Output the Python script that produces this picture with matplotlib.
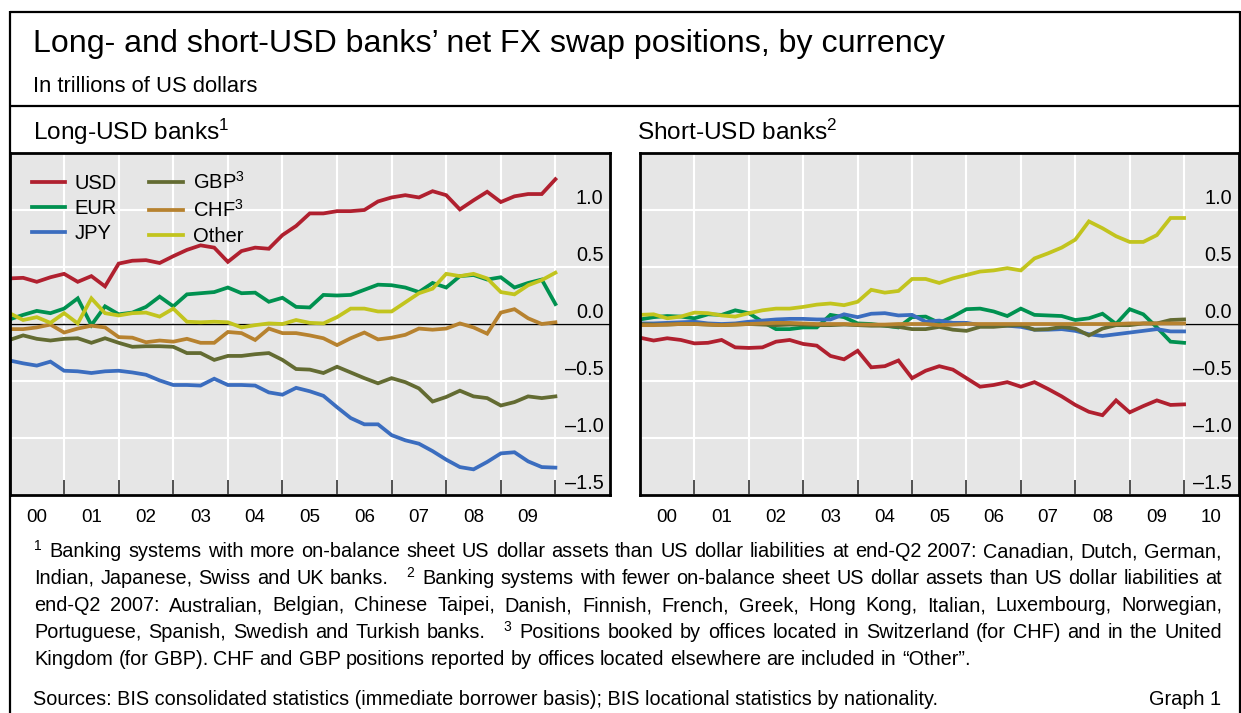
import matplotlib
matplotlib.use("Agg")
import matplotlib.pyplot as plt
import matplotlib.transforms as mtransforms
from matplotlib.lines import Line2D
import numpy as np

# quarterly observations, 2000 to 2010
quarters = 2000 + 0.25 * np.arange(41)

# long-USD banks
usd_long = [0.40, 0.405, 0.37, 0.41, 0.44, 0.37, 0.42, 0.33, 0.53, 0.555, 0.56, 0.535, 0.595, 0.65,
            0.69, 0.67, 0.545, 0.64, 0.67, 0.66, 0.78, 0.86, 0.97, 0.97, 0.99, 0.99, 1.0, 1.075,
            1.11, 1.13, 1.11, 1.165, 1.13, 1.005, 1.085, 1.16, 1.07, 1.12, 1.14, 1.14, 1.27]
eur_long = [0.04, 0.08, 0.115, 0.095, 0.135, 0.225, -0.01, 0.155, 0.085, 0.10, 0.15, 0.24, 0.155,
            0.26, 0.27, 0.28, 0.32, 0.27, 0.275, 0.195, 0.23, 0.15, 0.145, 0.255, 0.25, 0.255,
            0.30, 0.345, 0.34, 0.32, 0.28, 0.36, 0.32, 0.42, 0.43, 0.39, 0.41, 0.32, 0.36, 0.39, 0.175]
jpy_long = [-0.32, -0.345, -0.365, -0.33, -0.41, -0.415, -0.43, -0.415, -0.41, -0.425, -0.445,
            -0.495, -0.535, -0.535, -0.54, -0.48, -0.535, -0.535, -0.54, -0.60, -0.62, -0.56, -0.59,
            -0.63, -0.73, -0.825, -0.88, -0.88, -0.975, -1.02, -1.05, -1.115, -1.19, -1.255, -1.275,
            -1.21, -1.135, -1.125, -1.205, -1.255, -1.26]
gbp_long = [-0.14, -0.10, -0.13, -0.145, -0.13, -0.125, -0.165, -0.125, -0.165, -0.20, -0.195,
            -0.195, -0.20, -0.255, -0.255, -0.315, -0.28, -0.28, -0.265, -0.255, -0.315, -0.395,
            -0.40, -0.43, -0.375, -0.425, -0.475, -0.52, -0.475, -0.51, -0.565, -0.68, -0.64,
            -0.585, -0.635, -0.65, -0.715, -0.685, -0.635, -0.65, -0.635]
chf_long = [-0.045, -0.045, -0.03, -0.005, -0.075, -0.04, -0.015, -0.03, -0.115, -0.12, -0.16,
            -0.145, -0.155, -0.13, -0.165, -0.165, -0.07, -0.08, -0.14, -0.04, -0.08, -0.08, -0.10,
            -0.125, -0.185, -0.125, -0.075, -0.135, -0.12, -0.095, -0.04, -0.05, -0.04, 0.005,
            -0.03, -0.085, 0.10, 0.13, 0.05, 0.0, 0.015]
other_long = [0.095, 0.035, 0.06, 0.01, 0.095, 0.005, 0.225, 0.095, 0.075, 0.095, 0.10, 0.065,
              0.135, 0.02, 0.015, 0.02, 0.015, -0.03, -0.01, 0.005, 0.0, 0.035, 0.01, 0.005, 0.06,
              0.135, 0.135, 0.11, 0.11, 0.19, 0.27, 0.31, 0.44, 0.42, 0.44, 0.40, 0.28, 0.26, 0.34,
              0.385, 0.45]

# short-USD banks
usd_short = [-0.12, -0.145, -0.125, -0.14, -0.17, -0.165, -0.14, -0.205, -0.21, -0.205, -0.155,
             -0.14, -0.175, -0.19, -0.28, -0.31, -0.235, -0.38, -0.37, -0.32, -0.475, -0.41, -0.37,
             -0.40, -0.475, -0.55, -0.535, -0.51, -0.55, -0.51, -0.57, -0.635, -0.71, -0.77, -0.80,
             -0.67, -0.775, -0.72, -0.67, -0.71, -0.705]
eur_short = [0.04, 0.06, 0.07, 0.065, 0.05, 0.085, 0.08, 0.12, 0.095, 0.02, -0.045, -0.045, -0.03,
             -0.03, 0.08, 0.06, 0.005, 0.0, -0.015, -0.03, 0.06, 0.065, 0.01, 0.065, 0.13, 0.135,
             0.11, 0.07, 0.135, 0.08, 0.075, 0.07, 0.035, 0.05, 0.09, 0.0, 0.13, 0.085, -0.03,
             -0.155, -0.165]
jpy_short = [0.005, 0.005, 0.01, 0.015, 0.02, 0.005, 0.0, 0.005, 0.02, 0.03, 0.04, 0.045, 0.045,
             0.04, 0.04, 0.085, 0.06, 0.09, 0.095, 0.075, 0.08, 0.02, 0.03, 0.01, 0.01, -0.01,
             -0.015, -0.015, -0.025, -0.05, -0.05, -0.045, -0.06, -0.09, -0.105, -0.09, -0.075,
             -0.06, -0.045, -0.065, -0.065]
gbp_short = [0.0, -0.005, -0.005, 0.0, 0.0, -0.005, -0.01, -0.005, 0.0, -0.005, -0.01, -0.005,
             -0.005, -0.01, -0.01, -0.005, -0.01, -0.015, -0.015, -0.025, -0.045, -0.045, -0.025,
             -0.05, -0.06, -0.025, -0.025, -0.015, -0.01, -0.05, -0.045, -0.025, -0.04, -0.10,
             -0.04, -0.01, -0.01, 0.005, 0.005, 0.035, 0.04]
chf_short = [-0.01, -0.01, -0.005, 0.0, 0.0, -0.005, -0.01, -0.005, 0.0, 0.005, 0.01, 0.01, 0.005,
             0.0, 0.0, 0.0, -0.005, -0.005, -0.005, 0.0, 0.0, 0.0, -0.01, -0.005, 0.0, 0.0, 0.0,
             0.0, 0.0, 0.0, 0.0, 0.0, 0.0, 0.0, 0.0, 0.0, 0.005, 0.005, 0.005, 0.005, 0.005]
other_short = [0.08, 0.085, 0.05, 0.065, 0.10, 0.095, 0.075, 0.065, 0.095, 0.12, 0.135, 0.135,
               0.15, 0.17, 0.18, 0.165, 0.195, 0.30, 0.275, 0.29, 0.395, 0.395, 0.36, 0.40, 0.43,
               0.46, 0.47, 0.49, 0.47, 0.575, 0.62, 0.67, 0.74, 0.90, 0.84, 0.77, 0.72, 0.72, 0.78,
               0.93, 0.93]

series_names = ["USD", "EUR", "JPY", "GBP$^3$", "CHF$^3$", "Other"]
series_colors = ["#B0202F", "#009150", "#3B6DBF", "#636B32", "#B7822F", "#C2C41E"]
long_data = [usd_long, eur_long, jpy_long, gbp_long, chf_long, other_long]
short_data = [usd_short, eur_short, jpy_short, gbp_short, chf_short, other_short]

y_ticks = [1.0, 0.5, 0.0, -0.5, -1.0, -1.5]
year_labels = ["00", "01", "02", "03", "04", "05", "06", "07", "08", "09", "10"]

W, H = 1241, 713
plt.rcParams['font.family'] = ['Liberation Sans', 'DejaVu Sans']
plt.rcParams['mathtext.fontset'] = 'custom'
plt.rcParams['mathtext.rm'] = 'Liberation Sans'
plt.rcParams['mathtext.it'] = 'Liberation Sans:italic'
plt.rcParams['mathtext.bf'] = 'Liberation Sans:bold'

fig = plt.figure(figsize=(W / 100, H / 100), dpi=100)
renderer = fig.canvas.get_renderer()


def fx(px):
    return px / W


def fy(py):
    return 1 - py / H


def setup_panel(ax, labels):
    ax.set_facecolor('#E6E6E6')
    ax.set_xlim(2000, 2011)
    ax.set_ylim(-1.5, 1.5)
    ax.set_axisbelow(True)
    for s in ax.spines.values():
        s.set_linewidth(2.0)
        s.set_color('black')
    ax.set_xticks(range(2001, 2011))
    ax.set_xticks([2000.5 + i for i in range(len(labels))], minor=True)
    ax.set_xticklabels(labels, minor=True)
    ax.tick_params(axis='x', which='major', direction='in', length=11, width=1.2,
                   color='#333333', labelbottom=False)
    ax.tick_params(axis='x', which='minor', length=0, pad=10, labelsize=13.5)
    ax.set_yticks(y_ticks)
    ax.tick_params(axis='y', left=False, labelleft=False)
    ax.grid(True, which='major', color='white', linewidth=1.5)
    ax.axhline(0, color='black', linewidth=1.0, zorder=1.5)
    trans = mtransforms.blended_transform_factory(ax.transAxes, ax.transData)
    for v in y_ticks:
        lab = f"{v:.1f}".replace("-", "\u2013")
        ax.text(1 - 6.5 / 600, v + 0.05, lab, transform=trans, ha='right',
                va='baseline', size=14.3)


axL = fig.add_axes([fx(9.5), fy(495), (610 - 9.5) / W, (495 - 153) / H])
axR = fig.add_axes([fx(640), fy(495), (1238.5 - 640) / W, (495 - 153) / H])
setup_panel(axL, year_labels[:10])
setup_panel(axR, year_labels)

handles = []
for vals, name, col in zip(long_data, series_names, series_colors):
    h, = axL.plot(quarters, vals, color=col, lw=2.7, label=name, solid_joinstyle='miter')
    handles.append(h)
for vals, col in zip(short_data, series_colors):
    axR.plot(quarters, vals, color=col, lw=2.7, solid_joinstyle='miter')

axL.legend(handles=handles, ncol=2, loc='upper left', bbox_to_anchor=(22 / 600, 1 - 18 / 342),
           borderpad=0, borderaxespad=0, handlelength=1.65, handletextpad=0.5,
           columnspacing=1.6, labelspacing=0.3, fontsize=14.5, frameon=False)

# frame around the graph
frame_kw = dict(color='black', lw=1.6, solid_capstyle='butt')
fig.add_artist(Line2D([fx(9.5), fx(9.5)], [fy(11), 0], **frame_kw))
fig.add_artist(Line2D([fx(1239.5), fx(1239.5)], [fy(11), 0], **frame_kw))
fig.add_artist(Line2D([fx(9.5), fx(1239.5)], [fy(12), fy(12)], **frame_kw))
fig.add_artist(Line2D([fx(9.5), fx(1239.5)], [fy(106), fy(106)], **frame_kw))

# titles
fig.text(fx(33), fy(52), "Long- and short-USD banks\u2019 net FX swap positions, by currency",
         size=23.1, va='baseline')
fig.text(fx(33), fy(92), "In trillions of US dollars", size=15.8, va='baseline')
fig.text(fx(33), fy(140), "Long-USD banks$^1$", size=17.6, va='baseline')
fig.text(fx(637), fy(140), "Short-USD banks$^2$", size=17.6, va='baseline')

# footnotes (justified like the original)
NOTE_SIZE = 14.3
SUP_SIZE = 10
note_lines = [
    "^1 Banking systems with more on-balance sheet US dollar assets than US dollar liabilities at end-Q2 2007: Canadian, Dutch, German,",
    "Indian, Japanese, Swiss and UK banks. ^2 Banking systems with fewer on-balance sheet US dollar assets than US dollar liabilities at",
    "end-Q2 2007: Australian, Belgian, Chinese Taipei, Danish, Finnish, French, Greek, Hong Kong, Italian, Luxembourg, Norwegian,",
    "Portuguese, Spanish, Swedish and Turkish banks. ^3 Positions booked by offices located in Switzerland (for CHF) and in the United",
    "Kingdom (for GBP). CHF and GBP positions reported by offices located elsewhere are included in \u201cOther\u201d.",
]


def text_width(s, size):
    t = fig.text(0, 0, s, size=size)
    w = t.get_window_extent(renderer).width
    t.remove()
    return w


space_w = text_width("a a", NOTE_SIZE) - text_width("aa", NOTE_SIZE)


def draw_line(line, baseline, x0, x1, justify):
    tokens = line.split()
    sizes = [SUP_SIZE if t.startswith('^') else NOTE_SIZE for t in tokens]
    widths = [text_width(t.lstrip('^'), s) for t, s in zip(tokens, sizes)]
    kinds = []
    for k in range(1, len(tokens)):
        if tokens[k - 1].startswith('^'):
            kinds.append('after')
        elif tokens[k].startswith('^'):
            kinds.append('before')
        else:
            kinds.append('reg')
    fixed = sum(8 if k == 'after' else 2 * space_w for k in kinds if k != 'reg')
    n_reg = sum(1 for k in kinds if k in ('reg', 'before'))
    gap = (x1 - x0 - sum(widths) - fixed) / n_reg if justify else space_w
    x = x0
    for i, (tok, size, w) in enumerate(zip(tokens, sizes, widths)):
        if i > 0:
            k = kinds[i - 1]
            x += 8 if k == 'after' else gap + (2 * space_w if k == 'before' else 0)
        sup = tok.startswith('^')
        fig.text(fx(x), fy(baseline - (7 if sup else 0)), tok.lstrip('^'), size=size,
                 va='baseline')
        x += w


for i, line in enumerate(note_lines):
    draw_line(line, 557 + 27 * i, 34, 1222, justify=(i < len(note_lines) - 1))

fig.text(fx(33), fy(705), "Sources: BIS consolidated statistics (immediate borrower basis); "
         "BIS locational statistics by nationality.", size=NOTE_SIZE, va='baseline')
fig.text(fx(1221), fy(705), "Graph 1", size=NOTE_SIZE, va='baseline', ha='right')

fig.savefig("out.png", dpi=100)
